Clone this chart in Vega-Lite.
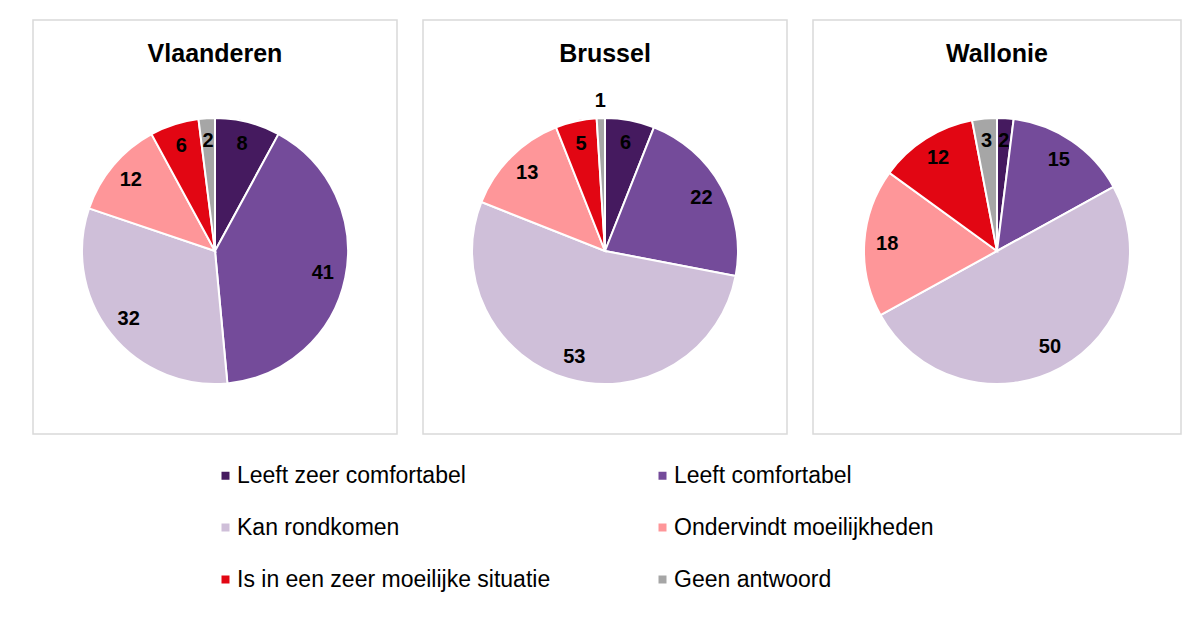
{
  "$schema": "https://vega.github.io/schema/vega-lite/v6.json",
  "padding": {"left": 32, "top": 19, "right": 0, "bottom": 0},
  "background": "white",
  "config": {
    "font": "Liberation Sans",
    "view": {"stroke": "#d9d9d9", "strokeWidth": 1.5},
    "title": {"fontSize": 25, "fontWeight": "bold", "color": "#000000", "font": "Liberation Sans", "anchor": "middle"}
  },
  "data": {
    "values": [
      {"region": "Vlaanderen", "cat": "Leeft zeer comfortabel", "k": 1, "value": 8},
      {"region": "Vlaanderen", "cat": "Leeft comfortabel", "k": 2, "value": 41},
      {"region": "Vlaanderen", "cat": "Kan rondkomen", "k": 3, "value": 32},
      {"region": "Vlaanderen", "cat": "Ondervindt moeilijkheden", "k": 4, "value": 12},
      {"region": "Vlaanderen", "cat": "Is in een zeer moeilijke situatie", "k": 5, "value": 6},
      {"region": "Vlaanderen", "cat": "Geen antwoord", "k": 6, "value": 2},
      {"region": "Brussel", "cat": "Leeft zeer comfortabel", "k": 1, "value": 6},
      {"region": "Brussel", "cat": "Leeft comfortabel", "k": 2, "value": 22},
      {"region": "Brussel", "cat": "Kan rondkomen", "k": 3, "value": 53},
      {"region": "Brussel", "cat": "Ondervindt moeilijkheden", "k": 4, "value": 13},
      {"region": "Brussel", "cat": "Is in een zeer moeilijke situatie", "k": 5, "value": 5},
      {"region": "Brussel", "cat": "Geen antwoord", "k": 6, "value": 1},
      {"region": "Wallonie", "cat": "Leeft zeer comfortabel", "k": 1, "value": 2},
      {"region": "Wallonie", "cat": "Leeft comfortabel", "k": 2, "value": 15},
      {"region": "Wallonie", "cat": "Kan rondkomen", "k": 3, "value": 50},
      {"region": "Wallonie", "cat": "Ondervindt moeilijkheden", "k": 4, "value": 18},
      {"region": "Wallonie", "cat": "Is in een zeer moeilijke situatie", "k": 5, "value": 12},
      {"region": "Wallonie", "cat": "Geen antwoord", "k": 6, "value": 3}
    ]
  },
  "spacing": 24,
  "hconcat": [
    {
      "width": 364, "height": 414,
      "view": {"stroke": "#d9d9d9", "strokeWidth": 1.5},
      "title": {"text": "Vlaanderen", "offset": -47},
      "transform": [{"filter": "datum.region === 'Vlaanderen'"}],
      "encoding": {
        "theta": {"field": "value", "type": "quantitative", "stack": true},
        "order": {"field": "k", "type": "quantitative"}
      },
      "layer": [
        {
          "mark": {"type": "arc", "outerRadius": 133, "stroke": "white", "strokeWidth": 2, "yOffset": 24},
          "encoding": {
            "color": {"field": "cat", "type": "nominal",
              "scale": {"domain": ["Leeft zeer comfortabel", "Leeft comfortabel", "Kan rondkomen", "Ondervindt moeilijkheden", "Is in een zeer moeilijke situatie", "Geen antwoord"],
                        "range": ["#451a5f", "#744b9a", "#cfbfd9", "#fe9699", "#e20613", "#a6a6a6"]},
              "legend": {"orient": "none", "direction": "horizontal", "legendX": 181, "legendY": 444, "columns": 2, "title": null, "symbolType": "square", "symbolSize": 64, "symbolStrokeWidth": 0, "labelFontSize": 23, "labelFont": "Liberation Sans", "labelColor": "#000000", "columnPadding": 100, "rowPadding": 28, "labelOffset": 0, "labelLimit": 0}}
          }
        },
        {
          "mark": {"type": "text", "radius": 110, "fontSize": 20, "fontWeight": "bold", "color": "#000000", "yOffset": 24},
          "encoding": {"text": {"field": "value", "type": "quantitative"},
            "opacity": {"condition": {"test": "datum.value > 1", "value": 1}, "value": 0}}
        },
        {
          "mark": {"type": "text", "radius": 150, "fontSize": 20, "fontWeight": "bold", "color": "#000000", "yOffset": 24},
          "encoding": {"text": {"field": "value", "type": "quantitative"},
            "opacity": {"condition": {"test": "datum.value <= 1", "value": 1}, "value": 0}}
        }
      ]
    },
    {
      "width": 364, "height": 414,
      "view": {"stroke": "#d9d9d9", "strokeWidth": 1.5},
      "title": {"text": "Brussel", "offset": -47},
      "transform": [{"filter": "datum.region === 'Brussel'"}],
      "encoding": {
        "theta": {"field": "value", "type": "quantitative", "stack": true},
        "order": {"field": "k", "type": "quantitative"}
      },
      "layer": [
        {
          "mark": {"type": "arc", "outerRadius": 133, "stroke": "white", "strokeWidth": 2, "yOffset": 24},
          "encoding": {
            "color": {"field": "cat", "type": "nominal",
              "scale": {"domain": ["Leeft zeer comfortabel", "Leeft comfortabel", "Kan rondkomen", "Ondervindt moeilijkheden", "Is in een zeer moeilijke situatie", "Geen antwoord"],
                        "range": ["#451a5f", "#744b9a", "#cfbfd9", "#fe9699", "#e20613", "#a6a6a6"]},
              "legend": {"orient": "none", "direction": "horizontal", "legendX": 181, "legendY": 444, "columns": 2, "title": null, "symbolType": "square", "symbolSize": 64, "symbolStrokeWidth": 0, "labelFontSize": 23, "labelFont": "Liberation Sans", "labelColor": "#000000", "columnPadding": 100, "rowPadding": 28, "labelOffset": 0, "labelLimit": 0}}
          }
        },
        {
          "mark": {"type": "text", "radius": 110, "fontSize": 20, "fontWeight": "bold", "color": "#000000", "yOffset": 24},
          "encoding": {"text": {"field": "value", "type": "quantitative"},
            "opacity": {"condition": {"test": "datum.value > 1", "value": 1}, "value": 0}}
        },
        {
          "mark": {"type": "text", "radius": 150, "fontSize": 20, "fontWeight": "bold", "color": "#000000", "yOffset": 24},
          "encoding": {"text": {"field": "value", "type": "quantitative"},
            "opacity": {"condition": {"test": "datum.value <= 1", "value": 1}, "value": 0}}
        }
      ]
    },
    {
      "width": 368, "height": 414,
      "view": {"stroke": "#d9d9d9", "strokeWidth": 1.5},
      "title": {"text": "Wallonie", "offset": -47},
      "transform": [{"filter": "datum.region === 'Wallonie'"}],
      "encoding": {
        "theta": {"field": "value", "type": "quantitative", "stack": true},
        "order": {"field": "k", "type": "quantitative"}
      },
      "layer": [
        {
          "mark": {"type": "arc", "outerRadius": 133, "stroke": "white", "strokeWidth": 2, "yOffset": 24},
          "encoding": {
            "color": {"field": "cat", "type": "nominal",
              "scale": {"domain": ["Leeft zeer comfortabel", "Leeft comfortabel", "Kan rondkomen", "Ondervindt moeilijkheden", "Is in een zeer moeilijke situatie", "Geen antwoord"],
                        "range": ["#451a5f", "#744b9a", "#cfbfd9", "#fe9699", "#e20613", "#a6a6a6"]},
              "legend": {"orient": "none", "direction": "horizontal", "legendX": 181, "legendY": 444, "columns": 2, "title": null, "symbolType": "square", "symbolSize": 64, "symbolStrokeWidth": 0, "labelFontSize": 23, "labelFont": "Liberation Sans", "labelColor": "#000000", "columnPadding": 100, "rowPadding": 28, "labelOffset": 0, "labelLimit": 0}}
          }
        },
        {
          "mark": {"type": "text", "radius": 110, "fontSize": 20, "fontWeight": "bold", "color": "#000000", "yOffset": 24},
          "encoding": {"text": {"field": "value", "type": "quantitative"},
            "opacity": {"condition": {"test": "datum.value > 1", "value": 1}, "value": 0}}
        },
        {
          "mark": {"type": "text", "radius": 150, "fontSize": 20, "fontWeight": "bold", "color": "#000000", "yOffset": 24},
          "encoding": {"text": {"field": "value", "type": "quantitative"},
            "opacity": {"condition": {"test": "datum.value <= 1", "value": 1}, "value": 0}}
        }
      ]
    }
  ]
}
